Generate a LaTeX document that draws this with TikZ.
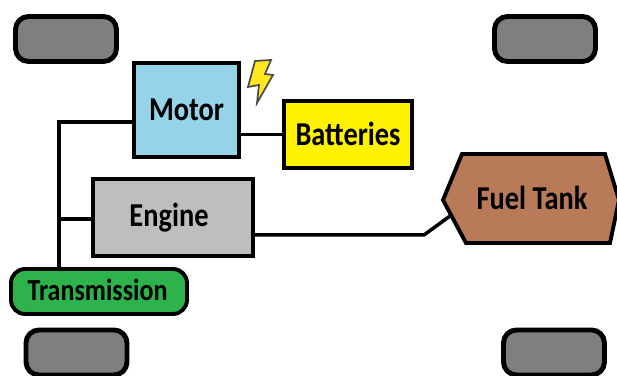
\documentclass[tikz,border=0pt]{standalone}
\usepackage{fontspec}
\setmainfont[FakeStretch=0.85]{Carlito}
\definecolor{motorblue}{HTML}{94D3E8}
\definecolor{battyellow}{HTML}{FFF200}
\definecolor{enginegray}{HTML}{BEBEBE}
\definecolor{tankbrown}{HTML}{B97A57}
\definecolor{transgreen}{HTML}{2DB24C}
\definecolor{wheelgray}{HTML}{7F7F7F}
\definecolor{boltyellow}{HTML}{FFE81F}
\tikzset{
  wheel/.style={draw=black, fill=wheelgray, line width=1.4pt, rounded corners=0.13cm, minimum width=1.01cm, minimum height=0.45cm, inner sep=0pt},
  part/.style={draw=black, line width=1.1pt, inner sep=0pt, font=\bfseries\fontsize{9.5}{12}\selectfont},
  wire/.style={line width=1pt, black}
}
\begin{document}
\begin{tikzpicture}[scale=1]
        \useasboundingbox (0,0) rectangle (6.17,3.76);
        % ==== WHEELS ====
        \node[wheel] (wheelTL) at (0.66,3.37) {};
        \node[wheel] (wheelTR) at (5.45,3.37) {};
        \node[wheel] (wheelBL) at (0.765,0.235) {};
        \node[wheel] (wheelBR) at (5.54,0.235) {};
        % ==== PARTS ====
        \node[part, fill=motorblue, minimum width=1.05cm, minimum height=0.94cm] (motor) at (1.865,2.66) {Motor};
        \node[part, fill=battyellow, minimum width=1.28cm, minimum height=0.67cm] (batteries) at (3.48,2.415) {\raisebox{0.02cm}{Batteries}};
        \node[part, fill=enginegray, minimum width=1.60cm, minimum height=0.77cm] (engine) at (1.73,1.585) {\hspace{-0.08cm}Engine};
        \node[part, fill=transgreen, rounded corners=0.14cm, minimum width=1.76cm, minimum height=0.45cm, font=\bfseries\fontsize{8.7}{11}\selectfont] (transmission) at (0.99,0.845) {\hspace{-0.03cm}\raisebox{0.03cm}{Transmission}};
        % ==== FUEL TANK ====
        \draw[line width=1.1pt, fill=tankbrown] (4.43,1.76) -- (4.62,2.22) -- (6.05,2.22) -- (6.19,1.76) -- (6.10,1.33) -- (4.66,1.33) -- cycle;
        \node[font=\bfseries\fontsize{9.5}{12}\selectfont] (tank) at (5.32,1.78) {Fuel Tank};
        % ==== BOLT ====
        \draw[line width=0.5pt, draw=black!70, fill=boltyellow] (2.55,3.15) -- (2.71,3.16) -- (2.65,3.02) -- (2.73,3.01) -- (2.57,2.73) -- (2.59,2.91) -- (2.48,2.89) -- cycle;
        % ==== CONNECTORS ====
        \coordinate (trunk) at (0.59,2.54);
        \coordinate (enginein) at (engine.west |- 0,1.57);
        \coordinate (engineout) at (engine.east |- 0,1.41);
        \coordinate (bend) at (4.24,1.41);
        \coordinate (tankin) at (4.50,1.60);
        \draw[wire] (motor.west |- trunk) -- (trunk) -- (trunk |- transmission.north);
        \draw[wire] (enginein) -- (trunk |- enginein);
        \draw[wire] (motor.east |- batteries.west) -- (batteries.west);
        \draw[wire] (engineout) -- (bend) -- (tankin);
     \end{tikzpicture}
\end{document}
